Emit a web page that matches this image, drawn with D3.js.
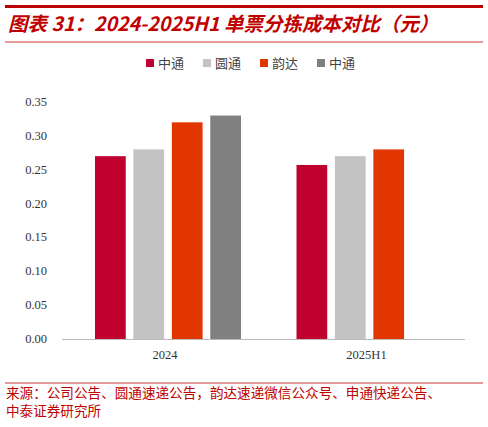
<!DOCTYPE html>
<html><head><meta charset="utf-8">
<script src="https://cdn.jsdelivr.net/npm/d3@7"></script>
<style>body{margin:0;background:#fff}</style>
</head><body>
<svg id="c" width="488" height="427"></svg>
<script>
const categories = ["2024", "2025H1"];
const seriesNames = ["中通", "圆通", "韵达", "中通"];
const seriesColors = ["#c0002f", "#c3c3c3", "#e23600", "#808080"];
const values = [
  [0.27, 0.28, 0.32, 0.33],
  [0.257, 0.27, 0.28, null]
];
const yTicks = [0, 0.05, 0.10, 0.15, 0.20, 0.25, 0.30, 0.35];

const svg = d3.select("#c");
const red = "#c00000";

// title block
svg.append("rect").attr("x", 5).attr("y", 5).attr("width", 478).attr("height", 3).attr("fill", red);
svg.append("text").attr("x", 8).attr("y", 31)
  .attr("font-family", "Noto Sans CJK SC").attr("font-weight", "bold").attr("font-style", "italic")
  .attr("font-size", 19.5).attr("fill", red)
  .text("图表 31：2024-2025H1 单票分拣成本对比（元）");
svg.append("line").attr("x1", 5).attr("x2", 483).attr("y1", 42).attr("y2", 42).attr("stroke", red).attr("stroke-width", 0.8);

const x0 = d3.scaleBand().domain(categories).range([62, 465]);
const x1 = d3.scaleBand().domain(d3.range(4)).range([33, 33 + 4 * 36.5]).paddingInner(0.2);
const y = d3.scaleLinear().domain([0, 0.35]).range([339, 102]);

// y axis labels
svg.append("g").selectAll("text").data(yTicks).join("text")
  .attr("x", 47).attr("y", d => y(d) + 4).attr("text-anchor", "end")
  .attr("font-family", "Liberation Serif").attr("font-size", 12.5).attr("fill", "#333")
  .text(d => d.toFixed(2));

// bars
categories.forEach((c, i) => {
  svg.append("g").selectAll("rect").data(values[i].map((v, j) => ({v, j})).filter(d => d.v != null))
    .join("rect")
    .attr("x", d => x0(c) + x1(d.j))
    .attr("width", x1.bandwidth())
    .attr("y", d => y(d.v))
    .attr("height", d => y(0) - y(d.v))
    .attr("fill", d => seriesColors[d.j]);
});

// x axis
svg.append("line").attr("x1", 62).attr("x2", 465).attr("y1", y(0) + 0.5).attr("y2", y(0) + 0.5).attr("stroke", "#bbb");
svg.append("g").selectAll("text").data(categories).join("text")
  .attr("x", d => x0(d) + 33 + 2 * 36.5 - 3).attr("y", 359).attr("text-anchor", "middle")
  .attr("font-family", "Liberation Serif").attr("font-size", 12.5).attr("fill", "#333")
  .text(d => d);

// legend
const lg = svg.append("g").selectAll("g").data(seriesNames).join("g")
  .attr("transform", (d, i) => `translate(${146 + i * 57},59)`);
lg.append("rect").attr("width", 8).attr("height", 8).attr("fill", (d, i) => seriesColors[i]);
lg.append("text").attr("x", 12).attr("y", 8.5).attr("font-family", "Noto Sans CJK SC")
  .attr("font-size", 13).attr("fill", "#444").text(d => d);

// source
svg.append("line").attr("x1", 5).attr("x2", 483).attr("y1", 383).attr("y2", 383).attr("stroke", red).attr("stroke-width", 0.8);
const src = ["来源：公司公告、圆通速递公告，韵达速递微信公众号、申通快递公告、", "中泰证券研究所"];
svg.append("g").selectAll("text").data(src).join("text")
  .attr("x", 6).attr("y", (d, i) => 398 + i * 18)
  .attr("font-family", "Noto Sans CJK SC").attr("font-size", 13.6).attr("fill", red)
  .text(d => d);
</script>
</body></html>
